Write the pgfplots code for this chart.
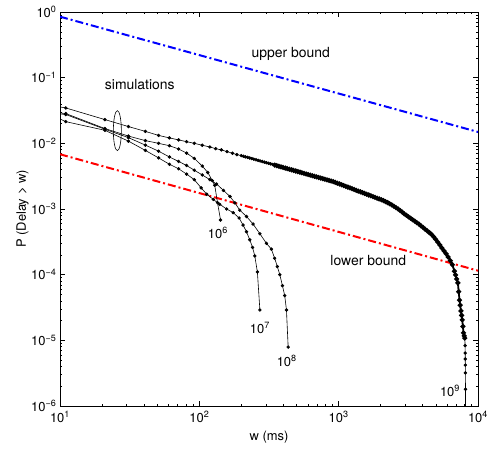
\documentclass[border=0pt]{standalone}
\usepackage{fontspec}
\setmainfont{TeX Gyre Heros}
\usepackage{pgfplots}
\pgfplotsset{compat=1.18}
\begin{document}
\begin{tikzpicture}
\begin{axis}[
  scale only axis, width=418bp, height=394bp,
  xmode=log, ymode=log,
  xmin=10, xmax=10000, ymin=1e-6, ymax=1,
  xtick={10,100,1000,10000},
  xticklabels={10\textsuperscript{1},10\textsuperscript{2},10\textsuperscript{3},10\textsuperscript{4}},
  ytick={1e-6,1e-5,1e-4,1e-3,1e-2,1e-1,1},
  yticklabels={10\textsuperscript{−6},10\textsuperscript{−5},10\textsuperscript{−4},10\textsuperscript{−3},10\textsuperscript{−2},10\textsuperscript{−1},10\textsuperscript{0}},
  minor xtick={20,30,40,50,60,70,80,90,200,300,400,500,600,700,800,900,2000,3000,4000,5000,6000,7000,8000,9000},
  minor ytick={2e-6,3e-6,4e-6,5e-6,6e-6,7e-6,8e-6,9e-6,2e-5,3e-5,4e-5,5e-5,6e-5,7e-5,8e-5,9e-5,2e-4,3e-4,4e-4,5e-4,6e-4,7e-4,8e-4,9e-4,2e-3,3e-3,4e-3,5e-3,6e-3,7e-3,8e-3,9e-3,0.02,0.03,0.04,0.05,0.06,0.07,0.08,0.09,0.2,0.3,0.4,0.5,0.6,0.7,0.8,0.9},
  tick align=inside,
  major tick length=5bp, minor tick length=2.5bp,
  every tick/.style={black, line width=0.5bp},
  axis line style={line width=1bp},
  tick label style={font=\fontsize{13}{15}\selectfont},
  xticklabel style={yshift=-2bp},
  label style={font=\fontsize{13}{15}\selectfont},
  xlabel={w (ms)}, ylabel={P (Delay > w)},
  xlabel style={at={(axis description cs:0.5,-0.0787)}, anchor=center},
  ylabel style={at={(axis description cs:-0.0897,0.5)}, anchor=center},
  sim/.style={black, line width=0.6bp, mark=*, mark size=1.4bp, mark options={solid}},
  edge/.style={black, line width=0.6bp, no marks},
  bound/.style={line width=2bp, no marks, dash pattern=on 8bp off 3bp on 2bp off 3bp},
]
% bounds
\addplot[bound, color={rgb,255:red,0;green,0;blue,255}] coordinates {(10,0.849)(10000,0.0149)};
\addplot[bound, color={rgb,255:red,255;green,0;blue,0}] coordinates {(10,0.00682)(10000,0.000115)};

% 10^6
\addplot[edge] coordinates {(10,0.0290)(11,0.0284)};
\addplot[sim] coordinates {(11,0.0284)(21,0.0168)(31,0.0129)(41,0.0110)(51,0.0100)(61,0.0092)(71,0.0082)(81,0.0071)(92,0.0059)(105,0.0045)(115,0.0036)(124,0.0027)(129,0.0023)(135,0.00125)(142,0.00068)};

% 10^7
\addplot[edge] coordinates {(10,0.0235)(11,0.0214)};
\addplot[sim] coordinates {(11,0.0214)(21,0.0158)(31,0.0108)(41,0.0078)(51,0.0060)(61,0.0048)(71,0.0041)(81,0.0034)(92,0.0028)(103,0.0021)(113,0.00168)(126,0.0014)(140,0.00118)(157,0.00100)(175,0.00088)(193,0.00073)(206,0.00057)(218,0.00045)(230,0.00034)(241,0.00026)(250,0.000193)(261,0.00011)(272,0.000029)};

% 10^8
\addplot[edge] coordinates {(10,0.0280)(11,0.0275)};
\addplot[sim] coordinates {(11,0.0275)(21,0.0164)(31,0.0122)(41,0.0094)(51,0.0076)(61,0.0062)(71,0.0053)(81,0.0046)(92,0.0039)(105,0.0033)(119,0.0028)(133,0.0024)(149,0.00192)(166,0.00155)(180,0.00124)(195,0.00096)(218,0.00077)(243,0.00059)(272,0.00042)(303,0.00030)(329,0.000245)(347,0.000178)(363,0.000133)(378,0.000100)(395,0.000068)(410,0.000048)(422,0.000029)(434,0.0000079)};

% 10^9
\addplot[edge] coordinates {(10,0.0358)(11,0.0346)};
\addplot[sim] coordinates {(11,0.0346)(21,0.0230)(31,0.0180)(41,0.0152)(51,0.0132)(61,0.0121)(71,0.01127)(81,0.0106)(92,0.0100)(105,0.00935)(119,0.0088)(131,0.0083)(144,0.00794)(158,0.00748)(173,0.00707)(186,0.00673)(200,0.0065)(207,0.006367)(214,0.006236)(222,0.006108)(230,0.005983)(238,0.005860)(246,0.005740)(255,0.005622)(264,0.005507)(273,0.005394)(283,0.005283)(293,0.005175)(303,0.005069)(314,0.004965)(325,0.004863)(336,0.004763)(348,0.004665)};
\addplot[sim, line width=1.8bp, mark size=1.5bp] coordinates {
(348,0.004665)(360,0.004570)(373,0.004476)(386,0.004384)(399,0.004294)(414,0.004206)
(428,0.004120)(443,0.004036)(459,0.003953)(475,0.003872)(492,0.003792)(509,0.003715)(527,0.003639)(545,0.003564)(564,0.003491)(584,0.003419)
(604,0.003349)(626,0.003281)(648,0.003213)(670,0.003147)(694,0.003083)(718,0.003020)(743,0.002958)(770,0.002897)(796,0.002838)(825,0.002780)
(853,0.002723)(883,0.002667)(914,0.002612)(946,0.002541)(979,0.002472)(1014,0.002404)(1049,0.002339)(1086,0.002275)(1125,0.002213)(1164,0.002153)
(1205,0.002094)(1247,0.002037)(1291,0.001982)(1336,0.001928)(1383,0.001875)(1432,0.001824)(1482,0.001774)(1534,0.001726)(1589,0.001679)(1644,0.001633)
(1702,0.001589)(1762,0.001545)(1824,0.001503)(1888,0.001462)(1954,0.001423)(2023,0.001384)(2094,0.001342)(2168,0.001298)(2244,0.001252)(2323,0.001204)
(2404,0.001154)(2489,0.001104)(2576,0.001052)(2667,0.001000)(2761,0.000948)(2858,0.000896)(2958,0.000844)(3062,0.000802)(3170,0.000761)(3281,0.000724)
(3396,0.000687)(3516,0.000653)(3639,0.000620)(3767,0.000589)(3899,0.000555)(4036,0.000523)(4178,0.000492)(4325,0.000464)(4477,0.000437)(4634,0.000411)
(4797,0.000380)(4966,0.000346)(5140,0.000313)(5321,0.000283)(5508,0.000255)(5702,0.000231)(5902,0.000209)(6109,0.000186)(6324,0.000163)(6546,0.000142)
(6776,0.000113)(6900,0.000099)(7030,0.000086)(7170,0.000075)(7270,0.000055)(7365,0.000041)(7450,0.0000343)(7550,0.000028)(7630,0.000024)(7710,0.0000205)
(7790,0.0000163)(7870,0.000013)(7960,0.0000117)(8040,0.0000108)};
\addplot[sim] coordinates {(8040,0.0000108)(8080,0.0000083)(8090,0.0000064)(8100,0.0000052)(8110,0.0000042)(8120,0.0000032)(8130,0.0000018)};
\addplot[edge] coordinates {(8130,0.0000018)(8140,0.00000001)};

% annotations
\draw[line width=0.6bp] (axis cs:25.8,0.0156) ellipse [x radius=4bp, y radius=20bp];
\node[font=\fontsize{14}{16}\selectfont] at (axis cs:453,0.23) {upper bound};
\node[font=\fontsize{14}{16}\selectfont] at (axis cs:37.4,0.0788) {simulations};
\node[font=\fontsize{14}{16}\selectfont] at (axis cs:1633,0.000162) {lower bound};
\node[font=\fontsize{13}{15}\selectfont] at (axis cs:136,0.000433) {10\textsuperscript{6}};
\node[font=\fontsize{13}{15}\selectfont] at (axis cs:272,0.0000155) {10\textsuperscript{7}};
\node[font=\fontsize{13}{15}\selectfont] at (axis cs:424,0.00000488) {10\textsuperscript{8}};
\node[font=\fontsize{13}{15}\selectfont] at (axis cs:6295,0.0000017) {10\textsuperscript{9}};
\end{axis}
\pgfresetboundingbox
\path ([shift={(-60bp,-44bp)}]current axis.south west) rectangle ([shift={(15bp,12bp)}]current axis.north east);
\end{tikzpicture}
\end{document}
